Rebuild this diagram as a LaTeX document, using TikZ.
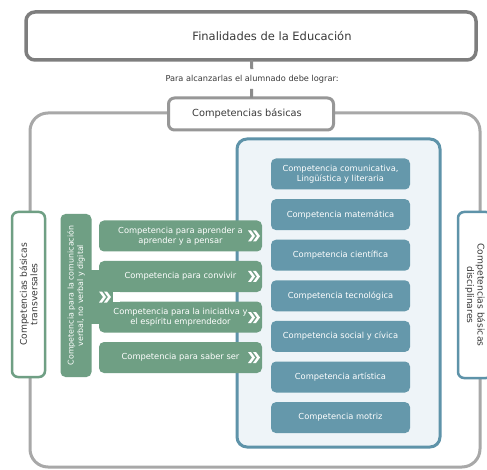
\documentclass[tikz,border=0pt]{standalone}
\usepackage{fontspec}
\setmainfont{DejaVu Sans}
\usepackage{xcolor}
\usetikzlibrary{positioning}

\definecolor{framegray}{HTML}{A8A8A8}
\definecolor{titlegray}{HTML}{7E7E7E}
\definecolor{leafgreen}{HTML}{6F9F84}
\definecolor{steelblue}{HTML}{6598AB}
\definecolor{panelfill}{HTML}{EEF4F8}
\definecolor{panelline}{HTML}{5E93A9}
\definecolor{inkgray}{HTML}{3A3A3A}

\tikzset{
  chevrons/.pic={
    \fill[white] (-6,-5.5) -- (-3,-5.5) -- (1,0) -- (-3,5.5) -- (-6,5.5) -- (-2,0) -- cycle;
    \fill[white] (-1,-5.5) -- (2,-5.5) -- (6,0) -- (2,5.5) -- (-1,5.5) -- (3,0) -- cycle;
  }
}

\begin{document}
\begin{tikzpicture}[
  x=1pt, y=-1pt,
  every node/.style={inner sep=0pt, outer sep=0pt},
  frame/.style={draw=framegray, line width=3pt, rounded corners=18pt},
  headbox/.style={draw=titlegray, line width=3.5pt, fill=white, rounded corners=9pt,
                  text=inkgray, font=\fontsize{11.5}{13}\selectfont},
  basebox/.style={draw=framegray!90!black, line width=3pt, fill=white, rounded corners=6pt,
                  text=inkgray, font=\fontsize{9.8}{11}\selectfont},
  sidebox/.style={draw, line width=2.5pt, fill=white, rounded corners=6pt, align=center,
                  text=inkgray, font=\fontsize{9.2}{10.5}\selectfont},
  greenbox/.style={fill=leafgreen, rounded corners=5pt, text=white, align=center,
                   minimum width=163pt, minimum height=31pt,
                   font=\fontsize{8.3}{10}\selectfont},
  bluebox/.style={fill=steelblue, rounded corners=5pt, text=white, align=center,
                  minimum width=139pt, minimum height=31pt,
                  font=\fontsize{8.3}{10}\selectfont},
  link/.style={draw=titlegray!90, line width=3pt}
]
  \useasboundingbox (0,0) rectangle (487,470);
  \clip (0,0) rectangle (487,470);
  \fill[white] (0,0) rectangle (487,470);

  % outer frame and the discipline panel
  \node[frame, minimum width=450pt, minimum height=354pt] (outer) at (255,290) {};
  \node[draw=panelline, fill=panelfill, line width=3pt, rounded corners=10pt,
        minimum width=203pt, minimum height=308pt] (panel) at (338.5,293) {};

  % heading
  \node[headbox, minimum width=450pt, minimum height=48pt] (title) at (251,36)
    {\hspace*{42pt}Finalidades de la Educación};
  \node[text=inkgray, font=\fontsize{8.2}{9}\selectfont, inner ysep=6pt] (guide) at (252,79)
    {Para alcanzarlas el alumnado debe lograr:};
  \node[basebox, minimum width=165pt, minimum height=32pt] (basic) at (251,114)
    {Competencias básicas\hspace*{8pt}};
  \draw[link] (title) -- (guide);
  \draw[link] (guide) -- (basic);

  % side labels
  \node[sidebox, draw=leafgreen, rotate=90, minimum width=165pt, minimum height=33pt]
    (transv) at (28.5,294.5) {Competencias básicas\\transversales};
  \node[sidebox, draw=panelline, rotate=-90, minimum width=166pt, minimum height=34pt]
    (discip) at (475,295) {Competencias básicas\\disciplinares};

  % transversal competences
  \node[fill=leafgreen, rounded corners=5pt, text=white, align=center, rotate=90,
        minimum width=163pt, minimum height=31pt, font=\fontsize{7.9}{9.6}\selectfont]
    (comm) at (76,295.5) {Competencia para la comunicación\\verbal, no verbal y digital};
  \node[fill=leafgreen, minimum width=25pt, minimum height=54pt] (joint) at (100,297) {};
  \node[greenbox] (learn) at (180.5,236) {Competencia para aprender a\\aprender y a pensar};
  \node[greenbox, below=9.5pt of learn] (live) {Competencia para convivir};
  \node[greenbox, below=9.5pt of live] (init) {Competencia para la iniciativa y\\el espíritu emprendedor};
  \node[greenbox, below=9.5pt of init] (being) {Competencia para saber ser};
  \fill[white] (112.5,292) rectangle (120,302);

  \pic at (254,236) {chevrons};
  \pic at (254,276.5) {chevrons};
  \pic at (254,317.5) {chevrons};
  \pic at (254,357.5) {chevrons};
  \pic at (105,297) {chevrons};

  % disciplinary competences
  \node[bluebox] (lang) at (340.5,174) {Competencia comunicativa,\\Lingüística y literaria};
  \node[bluebox, below=9.6pt of lang] (math) {Competencia matemática};
  \node[bluebox, below=9.6pt of math] (sci) {Competencia científica};
  \node[bluebox, below=9.6pt of sci] (tech) {Competencia tecnológica};
  \node[bluebox, below=9.6pt of tech] (civic) {Competencia social y cívica};
  \node[bluebox, below=9.6pt of civic] (art) {Competencia artística};
  \node[bluebox, below=9.6pt of art] (motor) {Competencia motriz};
\end{tikzpicture}
\end{document}
